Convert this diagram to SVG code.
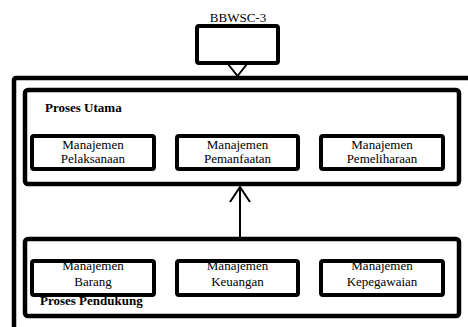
<svg xmlns="http://www.w3.org/2000/svg" width="468" height="327" viewBox="0 0 468 327">
<style>
.box{fill:none;stroke:#000;stroke-width:4;}
.cont{fill:none;stroke:#000;stroke-width:4.5;}
.t{font-family:"Liberation Serif","Times New Roman",serif;font-size:13px;fill:#000;text-anchor:middle;}
.b{font-family:"Liberation Serif","Times New Roman",serif;font-size:13px;font-weight:bold;fill:#000;}
.lbl{font-family:"Liberation Serif","Times New Roman",serif;font-size:13px;fill:#000;text-anchor:middle;}
.conn{fill:none;stroke:#000;stroke-width:2;}
</style>
<rect width="468" height="327" fill="#fff"/>
<g id="outer">
<rect class="cont" x="14" y="78" width="470" height="270" rx="2"/>
</g>
<g id="bbwsc">
<text class="lbl" x="238" y="22">BBWSC-3</text>
<rect class="box" x="197" y="26" width="81" height="37" rx="2"/>
</g>
<g id="proses-utama">
<rect class="cont" x="25" y="90" width="434" height="94" rx="3"/>
<text class="b" x="45" y="112">Proses Utama</text>
</g>
<g id="pelaksanaan">
<text class="t" x="93" y="148.5">Manajemen</text>
<text class="t" x="93" y="163">Pelaksanaan</text>
<rect class="box" x="32" y="136" width="122" height="33" rx="2"/>
</g>
<g id="pemanfaatan">
<text class="t" x="237.5" y="148.5">Manajemen</text>
<text class="t" x="237.5" y="163">Pemanfaatan</text>
<rect class="box" x="177" y="136" width="121" height="33" rx="2"/>
</g>
<g id="pemeliharaan">
<text class="t" x="382" y="148.5">Manajemen</text>
<text class="t" x="382" y="163">Pemeliharaan</text>
<rect class="box" x="321" y="136" width="122" height="33" rx="2"/>
</g>
<g id="proses-pendukung">
<rect class="cont" x="25" y="239" width="434" height="77" rx="3"/>
<text class="b" x="40" y="305">Proses Pendukung</text>
</g>
<g id="barang">
<text class="t" x="93" y="270">Manajemen</text>
<text class="t" x="93" y="286">Barang</text>
<rect class="box" x="32" y="261" width="122" height="34" rx="2"/>
</g>
<g id="keuangan">
<text class="t" x="237.5" y="270">Manajemen</text>
<text class="t" x="237.5" y="286">Keuangan</text>
<rect class="box" x="177" y="261" width="121" height="34" rx="2"/>
</g>
<g id="kepegawaian">
<text class="t" x="382" y="270">Manajemen</text>
<text class="t" x="382" y="286">Kepegawaian</text>
<rect class="box" x="321" y="261" width="122" height="34" rx="2"/>
</g>
<g id="connectors">
<path class="conn" d="M228,64 L237.5,76 L247,64" stroke-width="2.5"/>
<path class="conn" d="M240,237 L240,187"/>
<path class="conn" d="M230,202 L240,187 L250,202"/>
</g>
</svg>
